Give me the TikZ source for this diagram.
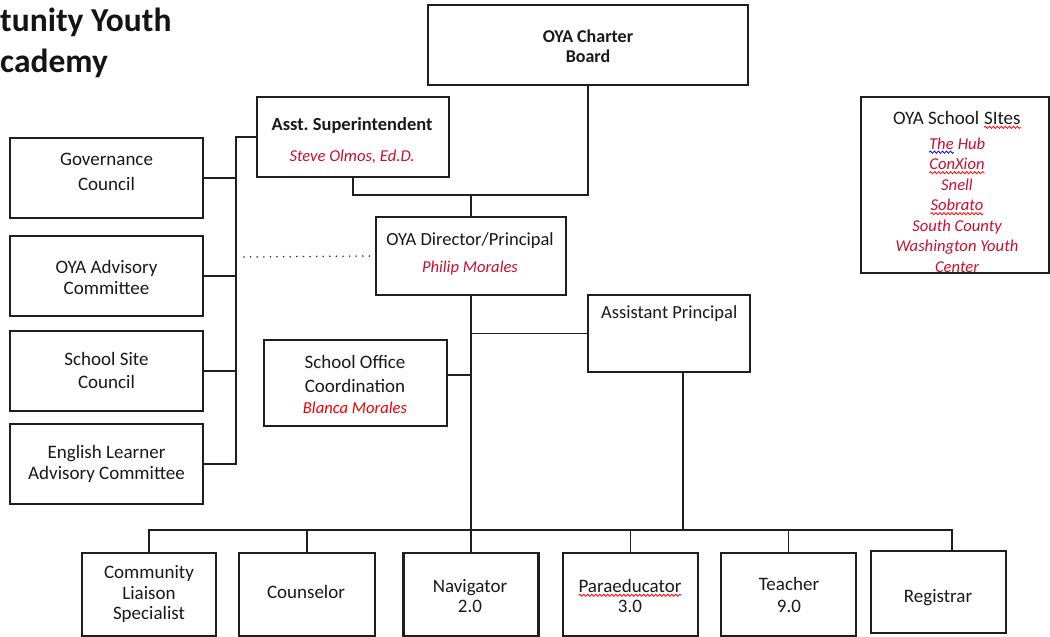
\documentclass[tikz,border=0pt]{standalone}
\usepackage{fontspec}
\setmainfont{Carlito}
\usetikzlibrary{calc,decorations.pathmorphing}
\definecolor{crim}{RGB}{200,16,46}
\definecolor{bred}{RGB}{240,0,0}
\definecolor{frame}{RGB}{30,30,30}
\frenchspacing
\newcommand\wv[2]{\tikz[baseline=(wvw.base)]{\node[inner sep=0pt, outer sep=0pt] (wvw) {#2};
  \draw[#1, line width=0.8pt, decorate, decoration={snake, amplitude=1.1pt, segment length=4pt}]
  ([yshift=-3pt]wvw.base west) -- ([yshift=-3pt]wvw.base east);}}
\newcommand\fs[2]{\fontsize{#1}{#2}\selectfont}
\tikzset{
  box/.style={draw=frame, line width=2.8pt, inner sep=0pt},
  txt/.style={align=center, inner sep=0pt, text=black!90},
  pers/.style={inner sep=0pt, text=crim, font=\fs{16.6}{20}\itshape},
  conn/.style={draw=black!88, line width=1.8pt},
  connb/.style={draw=black!88, line width=2.5pt},
  titlef/.style={anchor=base west, inner sep=0pt, font=\fs{33.5}{38}\bfseries, text=black!92}
}
\begin{document}
\begin{tikzpicture}[x=1pt,y=-1pt]
\useasboundingbox (0,0) rectangle (1050,637);
\clip (0,0) rectangle (1050,637);

% title
\node[titlef] (t1) at (0,31) {\llap{Oppor}tunity Youth};
\node[titlef] (t2) at (0,72) {\llap{A}cademy};

% top boxes
\node[box, minimum width=320, minimum height=80] (board) at (588,45) {};
\node[txt, font=\fs{18}{20}\bfseries] (boardt) at (588,46) {OYA Charter\\Board};

\node[box, minimum width=192, minimum height=80] (asup) at (353,137) {};
\node[txt, font=\fs{18.5}{22}\bfseries] (asupt) at (352,125) {Asst. Superintendent};
\node[pers] (asupn) at (352,157) {Steve Olmos, Ed.D.};

% left committees
\node[box, minimum width=193, minimum height=80] (gov) at (106.5,178) {};
\node[txt, font=\fs{19}{25}] (govt) at (106.5,172) {Governance\\Council};
\node[box, minimum width=193, minimum height=80] (adv) at (106.5,276) {};
\node[txt, font=\fs{19}{21}] (advt) at (106.5,277) {OYA Advisory\\Committee};
\node[box, minimum width=193, minimum height=80] (ssc) at (106.5,371) {};
\node[txt, font=\fs{19}{23}] (ssct) at (106.5,370) {School Site\\Council};
\node[box, minimum width=193, minimum height=80] (elac) at (106.5,464) {};
\node[txt, font=\fs{19}{21}] (elact) at (106.5,464) {English Learner\\Advisory Committee};

% director
\node[box, minimum width=190, minimum height=78] (dir) at (471,256) {};
\node[txt, font=\fs{18.5}{22}] (dirt) at (470,241) {OYA Director/Principal};
\node[pers] (dirn) at (470,268) {Philip Morales};

% assistant principal
\node[box, minimum width=162, minimum height=77] (ap) at (669,333.5) {};
\node[txt, anchor=base west, font=\fs{18.5}{22}] (apt) at (601,318) {Assistant Principal};

% school office
\node[box, minimum width=183, minimum height=86] (soc) at (355.5,383) {};
\node[txt, font=\fs{19}{24}] (soct) at (355,374) {School Office\\Coordination};
\node[pers, text=bred] (socn) at (355,408) {Blanca Morales};

% sites
\node[box, minimum width=188, minimum height=176] (sites) at (955,185) {};
\node[txt, font=\fs{19}{22}] (sitest) at (957,120) {OYA School \wv{red}{SItes}};
\node[txt, text=crim, font=\fs{16.6}{20.5}\itshape] (sitesl) at (957,205)
  {\wv{blue}{The} Hub\\\wv{red}{ConXion}\\Snell\\\wv{red}{Sobrato}\\South County\\Washington Youth\\Center};

% bottom row
\node[box, minimum width=134, minimum height=83] (cls) at (149,594.5) {};
\node[txt, font=\fs{19}{20.5}] (clst) at (149,594) {Community\\Liaison\\Specialist};
\node[box, minimum width=136, minimum height=83] (cou) at (307,594.5) {};
\node[txt, font=\fs{19}{21}] (cout) at (306,592) {Counselor};
\node[box, minimum width=135, minimum height=83] (nav) at (471,594.5) {};
\node[txt, font=\fs{19}{20.5}] (navt) at (470,596) {Navigator\\2.0};
\node[box, minimum width=135, minimum height=83] (para) at (630.5,594.5) {};
\node[txt, font=\fs{19}{20.5}] (parat) at (630,596) {\wv{red}{Paraeducator}\\3.0};
\node[box, minimum width=135, minimum height=83] (tea) at (788.5,594.5) {};
\node[txt, font=\fs{19}{22}] (teat) at (789,595) {Teacher\\9.0};
\node[box, minimum width=135, minimum height=82] (reg) at (938.5,592) {};
\node[txt, font=\fs{19}{21}] (regt) at (938,598) {Registrar};

% helper coordinates
\coordinate (busx) at (236,0);
\coordinate (jn) at (0,195);
\coordinate (busB) at (0,530);
\coordinate (dotL) at (244,257);
\coordinate (socj) at ($(soc.east)+(0,-8)$);
\coordinate (apd) at ($(ap.south)+(14,0)$);
\coordinate (rd) at ($(reg.north)+(13.5,0)$);

% left committee bus
\draw[conn] (asup.west) -- (asup.west -| busx) -- (elac.east -| busx) -- (elac.east);
\draw[conn] (gov.east) -- (gov.east -| busx);
\draw[conn] (adv.east) -- (adv.east -| busx);
\draw[conn] (ssc.east) -- (ssc.east -| busx);

% superintendent / board / director junction
\draw[conn] (asup.south) -- (asup.south |- jn) -| (board.south);
\draw[conn] (dir.north) -- (dir.north |- jn);

% dotted advisory link
\draw[draw=black!80, line width=1.8pt, line cap=round, dash pattern=on 0pt off 6.6pt] (dotL) -- (dir.west);

% director down to navigator
\draw[connb] (dir.south) -- (nav.north);
\draw[conn] (ap.west) -- (ap.west -| dir.south);
\draw[connb] (socj) -- (socj -| dir.south);
\draw[connb] (apd) -- (apd |- busB);

% bottom bus
\draw[conn] (cls.north) -- (cls.north |- busB) -- (busB -| rd) -- (rd);
\draw[conn] (cou.north) -- (cou.north |- busB);
\draw[conn] (para.north) -- (para.north |- busB);
\draw[conn] (tea.north) -- (tea.north |- busB);
\end{tikzpicture}
\end{document}
